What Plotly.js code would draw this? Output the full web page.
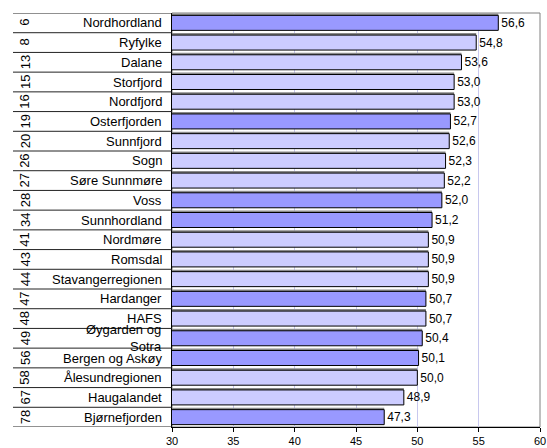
<!DOCTYPE html>
<html>
<head>
<meta charset="utf-8">
<script src="https://cdn.plot.ly/plotly-3.0.1.min.js"></script>
<style>html,body{margin:0;padding:0;background:#fff;}#chart{width:547px;height:448px;}</style>
</head>
<body>
<div id="chart"></div>
<script>
const ranks = [6, 8, 13, 15, 16, 19, 20, 26, 27, 28, 34, 41, 43, 44, 47, 48, 49, 56, 58, 67, 78];
const regions = ["Nordhordland", "Ryfylke", "Dalane", "Storfjord", "Nordfjord", "Osterfjorden", "Sunnfjord", "Sogn", "Søre Sunnmøre", "Voss", "Sunnhordland", "Nordmøre", "Romsdal", "Stavangerregionen", "Hardanger", "HAFS", "Øygarden og<br>Sotra", "Bergen og Askøy", "Ålesundregionen", "Haugalandet", "Bjørnefjorden"];
const values = [56.6, 54.8, 53.6, 53.0, 53.0, 52.7, 52.6, 52.3, 52.2, 52.0, 51.2, 50.9, 50.9, 50.9, 50.7, 50.7, 50.4, 50.1, 50.0, 48.9, 47.3];
const highlighted = [true, false, false, false, false, true, false, false, false, true, true, false, false, false, true, false, true, true, false, false, true];
const xTicks = [30, 35, 40, 45, 50, 55, 60];

const idx = regions.map((_, i) => i);
const colors = highlighted.map(h => h ? '#9999ff' : '#ccccff');
const FONT = 'Liberation Sans, Arial, sans-serif';

const shadow = {
  type: 'bar', orientation: 'h', y: idx, x: values, base: 0,
  width: 0.76, offset: -0.48,
  marker: {color: '#8a8a8a', line: {width: 0}},
  hoverinfo: 'skip', showlegend: false
};
const bars = {
  type: 'bar', orientation: 'h', y: idx, x: values,
  width: 0.76, offset: -0.38,
  marker: {color: colors, line: {color: '#000', width: 1}},
  text: values, texttemplate: '%{x:.1f}', textposition: 'outside',
  constraintext: 'none', cliponaxis: false,
  textfont: {family: FONT, size: 12, color: '#000'},
  showlegend: false
};

const annotations = [];
const shapes = [];
idx.forEach(i => {
  annotations.push({
    xref: 'paper', yref: 'y', x: 0, y: i, xanchor: 'right', yanchor: 'middle',
    xshift: -8, text: regions[i], showarrow: false, align: 'right',
    font: {family: FONT, size: 13, color: '#000'}
  });
  annotations.push({
    xref: 'paper', yref: 'y', x: 0, y: i, xanchor: 'center', yanchor: 'middle',
    xshift: -147, text: String(ranks[i]), showarrow: false, textangle: -90,
    font: {family: FONT, size: 13, color: '#000'}
  });
});
for (let k = 0; k <= regions.length; k++) {
  shapes.push({
    type: 'line', xref: 'paper', yref: 'y', xsizemode: 'pixel', xanchor: 0,
    x0: -159, x1: 0, y0: k - 0.5, y1: k - 0.5,
    line: {color: '#222', width: 1}
  });
}
shapes.push({
  type: 'rect', xref: 'paper', yref: 'paper', x0: 0, x1: 1, y0: 0, y1: 1,
  line: {color: '#808080', width: 1}, layer: 'below'
});

const layout = {
  width: 547, height: 448,
  margin: {l: 172, r: 7, t: 13, b: 21},
  paper_bgcolor: '#fff', plot_bgcolor: '#fff',
  barmode: 'overlay',
  separators: ',.',
  font: {family: FONT, size: 11, color: '#000'},
  xaxis: {
    range: [30, 60], tickvals: xTicks, ticktext: xTicks.map(String),
    showgrid: true, gridcolor: '#c8c8ee', gridwidth: 1, zeroline: false,
    showline: true, linecolor: '#000', linewidth: 1,
    ticks: 'outside', ticklen: 4, tickcolor: '#000',
    tickfont: {family: FONT, size: 11, color: '#000'}
  },
  yaxis: {
    range: [regions.length - 0.5, -0.5], showticklabels: false, ticks: '',
    showgrid: false, zeroline: false, showline: true, linecolor: '#000', linewidth: 1
  },
  annotations: annotations,
  shapes: shapes
};

Plotly.newPlot('chart', [shadow, bars], layout, {displayModeBar: false, staticPlot: true});
</script>
</body>
</html>
